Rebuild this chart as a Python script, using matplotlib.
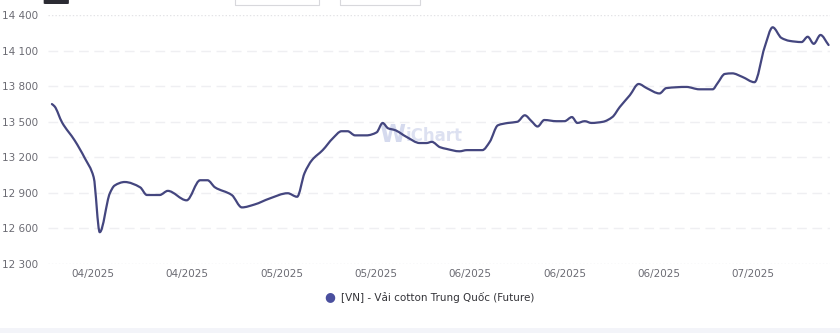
import numpy as np
import matplotlib.pyplot as plt
from matplotlib.patches import FancyBboxPatch, Rectangle, PathPatch
from matplotlib.path import Path

# Gia Vai cotton Trung Quoc (Future), days counted from start of series
days = [0, 0.4, 1.5, 3.4, 4.9, 6.2, 7.1, 8.6, 9.3, 10.8, 13.1, 14.1, 16.0, 17.2,
        20.0, 22.0, 23.1, 24.2, 26.7, 28.2, 30.1, 32.3, 35.0, 36.4, 37.5, 38.6,
        40.2, 41.7, 43.0, 43.9, 45.0, 46.7, 48.2, 49.1, 49.9, 50.9, 52.7, 54.6,
        55.6, 56.4, 57.6, 58.6, 60.5, 61.6, 63.9, 65.0, 66.2, 67.7, 69.1, 70.2,
        71.2, 72.1, 73.1, 74.9, 76.1, 77.2, 78.0, 79.1, 80.1, 81.8, 83.2, 84.3,
        85.8, 87.1, 88.3, 90.2, 91.2, 94.2, 96.1, 98.1, 98.8, 99.9, 101.0, 102.5,
        104.3, 105.8, 107.0, 108.3, 109.5, 111.3, 112.2, 113.1, 114.1, 115.3]
prices = [13650, 13630, 13495, 13340, 13190, 13030, 12565, 12895, 12960, 12990,
          12945, 12880, 12880, 12915, 12835, 13005, 13005, 12945, 12880, 12775,
          12800, 12850, 12895, 12865, 13065, 13175, 13260, 13360, 13420, 13420,
          13385, 13385, 13410, 13490, 13445, 13430, 13370, 13320, 13320, 13330,
          13285, 13270, 13250, 13260, 13260, 13330, 13470, 13490, 13500, 13555,
          13505, 13460, 13515, 13505, 13505, 13540, 13490, 13505, 13490, 13500,
          13540, 13625, 13725, 13820, 13785, 13740, 13785, 13795, 13775, 13775,
          13825, 13905, 13910, 13880, 13835, 14130, 14300, 14210, 14185, 14175,
          14220, 14160, 14235, 14150]

tick_days = [6.1, 20.1, 34.1, 48.1, 62.1, 76.1, 90.1, 104.1]
tick_labels = ['04/2025', '04/2025', '05/2025', '05/2025',
               '06/2025', '06/2025', '06/2025', '07/2025']
y_ticks = [12300, 12600, 12900, 13200, 13500, 13800, 14100, 14400]
series_name = '[VN] - Vải cotton Trung Quốc (Future)'

line_color = '#44467f'
dot_color = '#4a4f9e'


def smooth_path(x, y):
    # monotone cubic (Fritsch-Carlson) drawn as bezier segments
    x = np.asarray(x, float)
    y = np.asarray(y, float)
    h = np.diff(x)
    d = np.diff(y) / h
    m = np.zeros_like(y)
    m[0], m[-1] = d[0], d[-1]
    for i in range(1, len(y) - 1):
        if d[i - 1] * d[i] <= 0:
            m[i] = 0
        else:
            w1 = 2 * h[i] + h[i - 1]
            w2 = h[i] + 2 * h[i - 1]
            m[i] = (w1 + w2) / (w1 / d[i - 1] + w2 / d[i])
    verts = [(x[0], y[0])]
    codes = [Path.MOVETO]
    for i in range(len(x) - 1):
        verts += [(x[i] + h[i] / 3, y[i] + m[i] * h[i] / 3),
                  (x[i + 1] - h[i] / 3, y[i + 1] - m[i + 1] * h[i] / 3),
                  (x[i + 1], y[i + 1])]
        codes += [Path.CURVE4] * 3
    return Path(verts, codes)


fig = plt.figure(figsize=(8.4, 3.33), dpi=100)
fig.patch.set_facecolor('white')
ax = fig.add_axes([0.057, 0.2087, 0.931, 0.7448])

# grid
for v in y_ticks:
    if v in (y_ticks[0], y_ticks[-1]):
        ax.axhline(v, color='#e3e3e6', lw=1.0, ls=(0, (1, 1.5)), zorder=0)
    else:
        ax.axhline(v, color='#efeff2', lw=1.0, ls=(0, (7, 4)), zorder=0)

ax.add_patch(PathPatch(smooth_path(days, prices), fc='none', ec=line_color,
                       lw=1.6, joinstyle='round', capstyle='round', zorder=3))

ax.set_xlim(-0.6, 115.5)
ax.set_ylim(12300, 14400)
ax.set_yticks(y_ticks)
ax.set_yticklabels([f'{v:,}'.replace(',', ' ') for v in y_ticks])
ax.set_xticks(tick_days)
ax.set_xticklabels(tick_labels)
ax.tick_params(axis='both', length=0, labelsize=7.5, labelcolor='#6b6b73')
ax.tick_params(axis='y', pad=7)
ax.tick_params(axis='x', pad=4)
for s in ax.spines.values():
    s.set_visible(False)
ax.set_facecolor('none')

# watermark
ax.text(0.44, 0.52, 'W', transform=ax.transAxes, ha='center', va='center',
        fontsize=17, fontweight='bold', color='#d5daee', zorder=1)
ax.text(0.457, 0.515, 'iChart', transform=ax.transAxes, ha='left', va='center',
        fontsize=12, fontweight='bold', color='#dde1f1', zorder=1)

# legend
fig.text(0.393, 0.108, '●', color=dot_color, fontsize=9, ha='center', va='center')
fig.text(0.406, 0.108, series_name, color='#333338', fontsize=7.5, ha='left', va='center')

# bottom strip and top toolbar bits
fig.add_artist(Rectangle((0, 0), 1, 0.015, transform=fig.transFigure,
                         color='#f3f4f9', lw=0))
fig.add_artist(FancyBboxPatch((0.054, 0.99), 0.026, 0.03, transform=fig.transFigure,
                              boxstyle='round,pad=0.002', color='#2b2b33', lw=0))
for x0, w in [(0.28, 0.1), (0.405, 0.095)]:
    fig.add_artist(Rectangle((x0, 0.985), w, 0.03, transform=fig.transFigure,
                             fill=False, ec='#d8d8dc', lw=0.8))

fig.savefig('out.png', dpi=100)
